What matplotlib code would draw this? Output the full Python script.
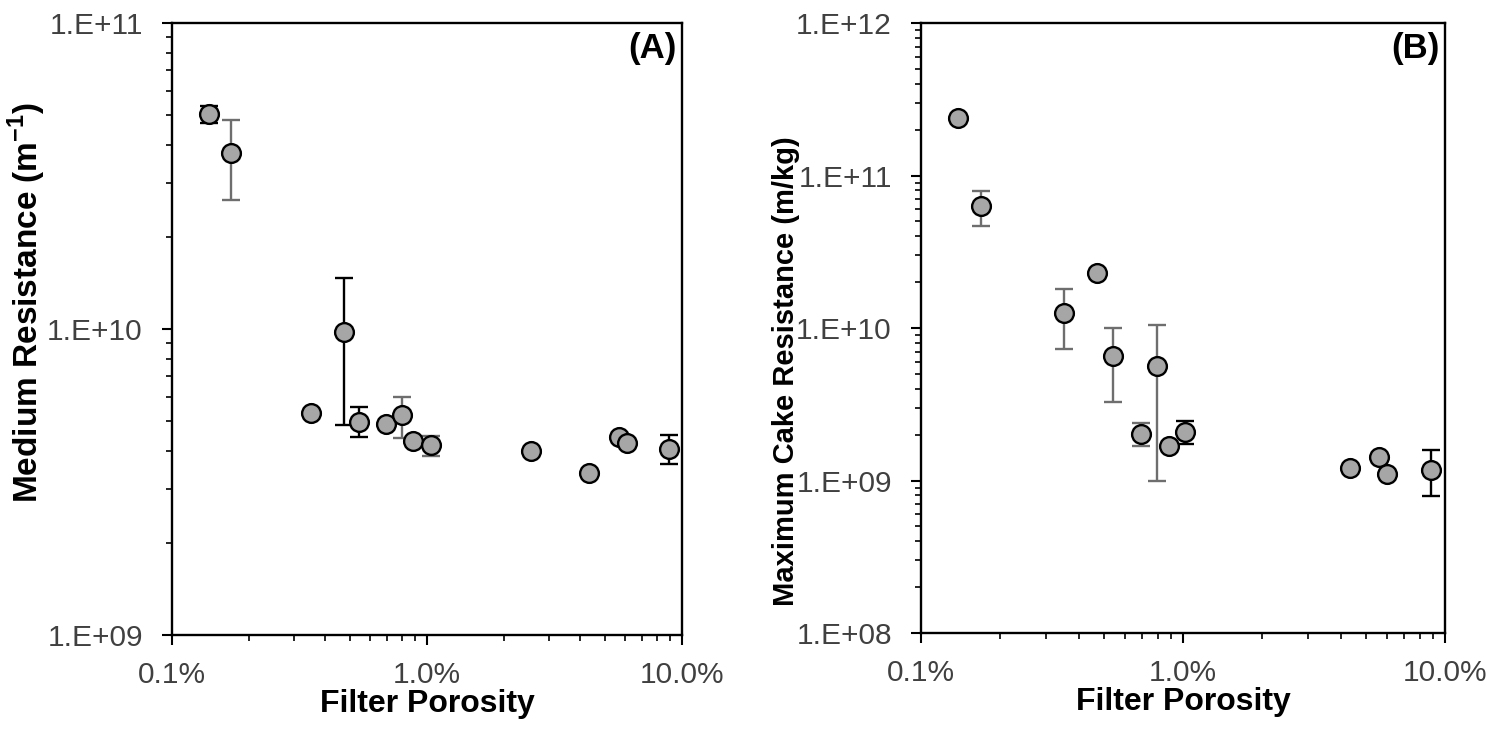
import math
import matplotlib.pyplot as plt
from matplotlib.ticker import FixedLocator, LogLocator, NullFormatter, FuncFormatter

plt.rcParams['font.family'] = ['Liberation Sans', 'DejaVu Sans']
plt.rcParams['mathtext.fontset'] = 'custom'
plt.rcParams['mathtext.rm'] = 'Liberation Sans'
plt.rcParams['mathtext.bf'] = 'Liberation Sans:bold'

# Panel A - medium resistance (1/m) vs filter porosity (%)
por_a = [0.140, 0.170, 0.350, 0.473, 0.543, 0.69, 0.796, 0.879, 1.036, 2.55, 4.33, 5.66, 6.1, 8.92]
res_a = [5.03e10, 3.75e10, 5.33e9, 9.8e9, 4.98e9, 4.90e9, 5.24e9, 4.31e9, 4.18e9, 4.00e9, 3.39e9, 4.45e9, 4.23e9, 4.05e9]
# error bars: (index, low, high, colour)
err_a = [(0, 4.72e10, 5.35e10, 'black'),
         (1, 2.64e10, 4.82e10, 'gray'),
         (3, 4.86e9, 1.47e10, 'black'),
         (4, 4.45e9, 5.56e9, 'black'),
         (6, 4.40e9, 5.98e9, 'gray'),
         (8, 3.85e9, 4.47e9, 'gray'),
         (13, 3.62e9, 4.52e9, 'black')]

# Panel B - maximum cake resistance (m/kg) vs filter porosity (%)
por_b = [0.139, 0.170, 0.351, 0.471, 0.539, 0.691, 0.794, 0.881, 1.02, 4.34, 5.61, 6.03, 8.85]
res_b = [2.37e11, 6.31e10, 1.26e10, 2.29e10, 6.55e9, 2.01e9, 5.63e9, 1.68e9, 2.09e9, 1.20e9, 1.43e9, 1.10e9, 1.17e9]
err_b = [(1, 4.67e10, 7.95e10, 'gray'),
         (2, 7.25e9, 1.80e10, 'gray'),
         (4, 3.26e9, 9.95e9, 'gray'),
         (5, 1.68e9, 2.39e9, 'gray'),
         (6, 9.97e8, 1.04e10, 'gray'),
         (8, 1.73e9, 2.47e9, 'black'),
         (12, 7.91e8, 1.58e9, 'black')]

colors = {'black': '#000000', 'gray': '#6e6e6e'}


def draw(ax, xs, ys, errs, ylim, ylabel, ylsize, ylpos, tag):
    for i, lo, hi, c in errs:
        ax.errorbar([xs[i]], [ys[i]], yerr=[[ys[i] - lo], [hi - ys[i]]], fmt='none',
                    ecolor=colors[c], elinewidth=1.7, capsize=6.5, capthick=1.7, zorder=2)
    ax.plot(xs, ys, 'o', ms=13.5, mfc='#a6a6a6', mec='black', mew=1.7, ls='none', zorder=3)
    ax.set_xscale('log')
    ax.set_yscale('log')
    ax.set_xlim(0.1, 10)
    ax.set_ylim(*ylim)
    ax.xaxis.set_major_locator(FixedLocator([0.1, 1, 10]))
    ax.xaxis.set_major_formatter(FuncFormatter(lambda v, p: f'{v:.1f}%'))
    ax.xaxis.set_minor_locator(LogLocator(base=10, subs=range(2, 10)))
    ax.xaxis.set_minor_formatter(NullFormatter())
    ax.yaxis.set_major_formatter(FuncFormatter(lambda v, p: '1.E+%02d' % round(math.log10(v))))
    ax.yaxis.set_minor_locator(LogLocator(base=10, subs=range(2, 10)))
    ax.yaxis.set_minor_formatter(NullFormatter())
    ax.tick_params(which='major', direction='out', length=7, width=1.5, labelsize=21.5,
                   labelcolor='#404040')
    ax.tick_params(axis='y', which='major', pad=14)
    ax.tick_params(axis='x', which='major', pad=12)
    ax.tick_params(which='minor', direction='out', length=4, width=1.2)
    for s in ax.spines.values():
        s.set_linewidth(1.7)
    ax.set_xlabel('Filter Porosity', fontsize=23, fontweight='bold', labelpad=0)
    ax.set_ylabel(ylabel, fontsize=ylsize, fontweight='bold')
    ax.yaxis.set_label_coords(*ylpos)
    ax.annotate(tag, xy=(1, 1), xycoords='axes fraction', xytext=(-5, -9),
                textcoords='offset pixels', ha='right', va='top',
                fontsize=25, fontweight='bold')


fig = plt.figure(figsize=(14.9, 7.32), dpi=100)
ax1 = fig.add_axes([0.1154, 0.1325, 0.3423, 0.8361])
ax2 = fig.add_axes([0.6181, 0.1352, 0.3517, 0.8333])

draw(ax1, por_a, res_a, err_a, (1e9, 1e11), r'Medium Resistance (m$^{\mathbf{-1}}$)',
     24, (-0.243, 0.544), '(A)')
draw(ax2, por_b, res_b, err_b, (1e8, 1e12), 'Maximum Cake Resistance (m/kg)',
     21, (-0.231, 0.43), '(B)')

fig.savefig('out.png', dpi=100)
